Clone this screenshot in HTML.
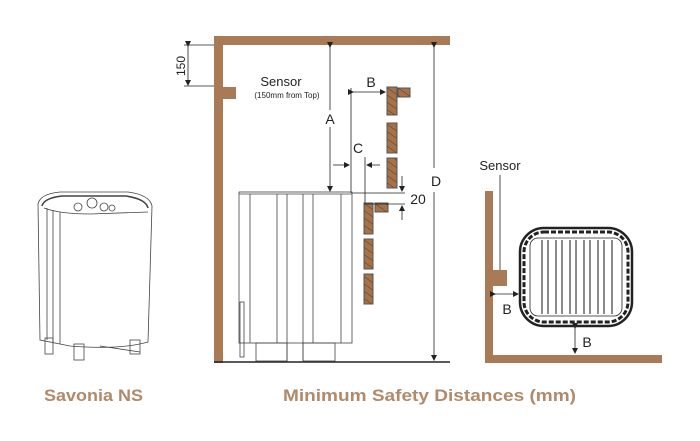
<!DOCTYPE html>
<html><head><meta charset="utf-8"><style>
html,body{margin:0;padding:0;background:#fff;}
svg{display:block;font-family:"Liberation Sans",sans-serif;}
</style></head><body>
<svg width="700" height="441" viewBox="0 0 700 441" xmlns="http://www.w3.org/2000/svg">
<defs>
<marker id="ar" markerWidth="6" markerHeight="6" refX="5" refY="3" orient="auto" markerUnits="userSpaceOnUse"><path d="M0,0 L6,3 L0,6 z" fill="#222"/></marker>
<pattern id="hatch" width="6" height="6" patternUnits="userSpaceOnUse" patternTransform="rotate(-55)"><rect width="6" height="6" fill="#a5724a"/><line x1="0" y1="0" x2="0" y2="6" stroke="#5a3a20" stroke-width="1"/></pattern>
</defs>
<g fill="#a87a55">
<rect x="214" y="36" width="236" height="9"/>
<rect x="214" y="36" width="9" height="327"/>
<rect x="223" y="87" width="13" height="12"/>
<rect x="485" y="191" width="8" height="171"/>
<rect x="485" y="355" width="177" height="8"/>
<rect x="493" y="270" width="14" height="16"/>
</g>
<line x1="214" y1="362" x2="450" y2="362" stroke="#222" stroke-width="1.5"/>
<g stroke="#555" stroke-width="1" fill="url(#hatch)">
<rect x="387" y="87" width="10" height="28"/>
<rect x="387" y="123" width="10" height="30"/>
<rect x="387" y="158" width="10" height="30"/>
<rect x="398" y="88" width="12" height="9"/>
<rect x="364" y="203" width="9" height="31"/>
<rect x="364" y="239" width="9" height="30"/>
<rect x="364" y="274" width="9" height="30"/>
<rect x="375" y="203" width="13" height="9"/>
</g>
<g stroke="#222" stroke-width="0.8" fill="none">
<line x1="188" y1="46" x2="188" y2="85" marker-end="url(#ar)" marker-start="url(#ar)"/>
<line x1="184" y1="45" x2="214" y2="45"/>
<line x1="184" y1="86" x2="214" y2="86"/>
<line x1="330" y1="47" x2="330" y2="110" marker-start="url(#ar)"/>
<line x1="330" y1="127" x2="330" y2="191" marker-end="url(#ar)"/>
<line x1="351" y1="88" x2="351" y2="193"/>
<line x1="353" y1="92" x2="385" y2="92" marker-start="url(#ar)" marker-end="url(#ar)"/>
<line x1="333" y1="165" x2="349" y2="165" marker-end="url(#ar)"/>
<line x1="380" y1="165" x2="367" y2="165" marker-end="url(#ar)"/>
<line x1="365" y1="157" x2="365" y2="203"/>
<line x1="352" y1="193" x2="405" y2="193"/>
<line x1="364" y1="204" x2="405" y2="204"/>
<line x1="402" y1="176" x2="402" y2="191" marker-end="url(#ar)"/>
<line x1="402" y1="220" x2="402" y2="206" marker-end="url(#ar)"/>
<line x1="434" y1="47" x2="434" y2="168" marker-start="url(#ar)"/>
<line x1="434" y1="192" x2="434" y2="360" marker-end="url(#ar)"/>
<line x1="500" y1="175" x2="500" y2="270"/>
<line x1="495" y1="294" x2="518" y2="294" marker-start="url(#ar)" marker-end="url(#ar)"/>
<line x1="575" y1="328" x2="575" y2="353" marker-start="url(#ar)" marker-end="url(#ar)"/>
</g>
<!-- side heater -->
<g stroke="#444" stroke-width="0.8" fill="none">
<rect x="239" y="192" width="113" height="151"/>
<line x1="239" y1="194" x2="352" y2="194"/>
<line x1="250" y1="194" x2="250" y2="343"/>
<line x1="277" y1="194" x2="277" y2="343"/>
<line x1="287" y1="194" x2="287" y2="362"/>
<line x1="303" y1="194" x2="303" y2="362"/>
<line x1="313" y1="194" x2="313" y2="343"/>
<line x1="341" y1="194" x2="341" y2="343"/>
<rect x="256" y="343" width="31" height="18"/>
<rect x="303" y="343" width="32" height="18"/>
<rect x="240" y="302" width="4" height="55"/>
</g>
<!-- top-view heater -->
<g stroke="#222" fill="none">
<rect x="520" y="228" width="112" height="98" rx="24" stroke-width="2.5"/>
<rect x="524" y="232" width="104" height="90" rx="20" stroke-width="3" stroke-dasharray="5 2"/>
<rect x="530" y="238" width="92" height="78" rx="8" stroke-width="0.8"/>
<g stroke="#666" stroke-width="1.5">
<line x1="542" y1="240" x2="542" y2="314"/><line x1="548" y1="240" x2="548" y2="314"/>
<line x1="556" y1="240" x2="556" y2="314"/><line x1="562" y1="240" x2="562" y2="314"/>
<line x1="570" y1="240" x2="570" y2="314"/><line x1="576" y1="240" x2="576" y2="314"/>
<line x1="584" y1="240" x2="584" y2="314"/><line x1="590" y1="240" x2="590" y2="314"/>
<line x1="598" y1="240" x2="598" y2="314"/><line x1="604" y1="240" x2="604" y2="314"/>
<line x1="612" y1="240" x2="612" y2="314"/>
</g>
</g>
<!-- perspective heater -->
<g stroke="#444" stroke-width="0.8" fill="none">
<path d="M38,204 Q40,194 60,192 L128,192 Q150,195 152,206 L148,342 Q120,350 70,346 L40,340 Z"/>
<path d="M42,206 Q44,198 62,196 L126,196 Q146,199 148,208" stroke-width="1.6"/>
<path d="M44,208 Q60,214 90,214 L148,212"/>
<line x1="47" y1="208" x2="47" y2="340"/>
<line x1="53" y1="210" x2="53" y2="342"/>
<line x1="60" y1="212" x2="60" y2="344"/>
<circle cx="78" cy="207" r="4"/><circle cx="92" cy="203" r="5"/><circle cx="104" cy="207" r="4"/><circle cx="112" cy="208" r="3"/>
<rect x="45" y="338" width="8" height="16"/><rect x="74" y="344" width="10" height="16"/><rect x="130" y="340" width="10" height="14"/>
<line x1="100" y1="346" x2="140" y2="352"/>
</g>
<g fill="#222">
<text x="188" y="66" font-size="12" transform="rotate(-90 188 66)" text-anchor="middle" dy="-3">150</text>
<text x="281" y="86" font-size="13" text-anchor="middle">Sensor</text>
<text x="287" y="98" font-size="8" text-anchor="middle">(150mm from Top)</text>
<text x="330" y="124" font-size="14" text-anchor="middle">A</text>
<text x="371" y="87" font-size="14" text-anchor="middle">B</text>
<text x="358" y="153" font-size="14" text-anchor="middle">C</text>
<text x="418" y="204" font-size="14" text-anchor="middle">20</text>
<text x="436" y="186" font-size="14" text-anchor="middle">D</text>
<text x="500" y="170" font-size="13" text-anchor="middle">Sensor</text>
<text x="507" y="314" font-size="14" text-anchor="middle">B</text>
<text x="587" y="347" font-size="14" text-anchor="middle">B</text>
</g>
<g fill="#b08a6a" font-weight="bold" font-size="17">
<text x="44" y="401" textLength="99" lengthAdjust="spacingAndGlyphs">Savonia NS</text>
<text x="283" y="401" textLength="293" lengthAdjust="spacingAndGlyphs">Minimum Safety Distances (mm)</text>
</g>
</svg>
</body></html>
